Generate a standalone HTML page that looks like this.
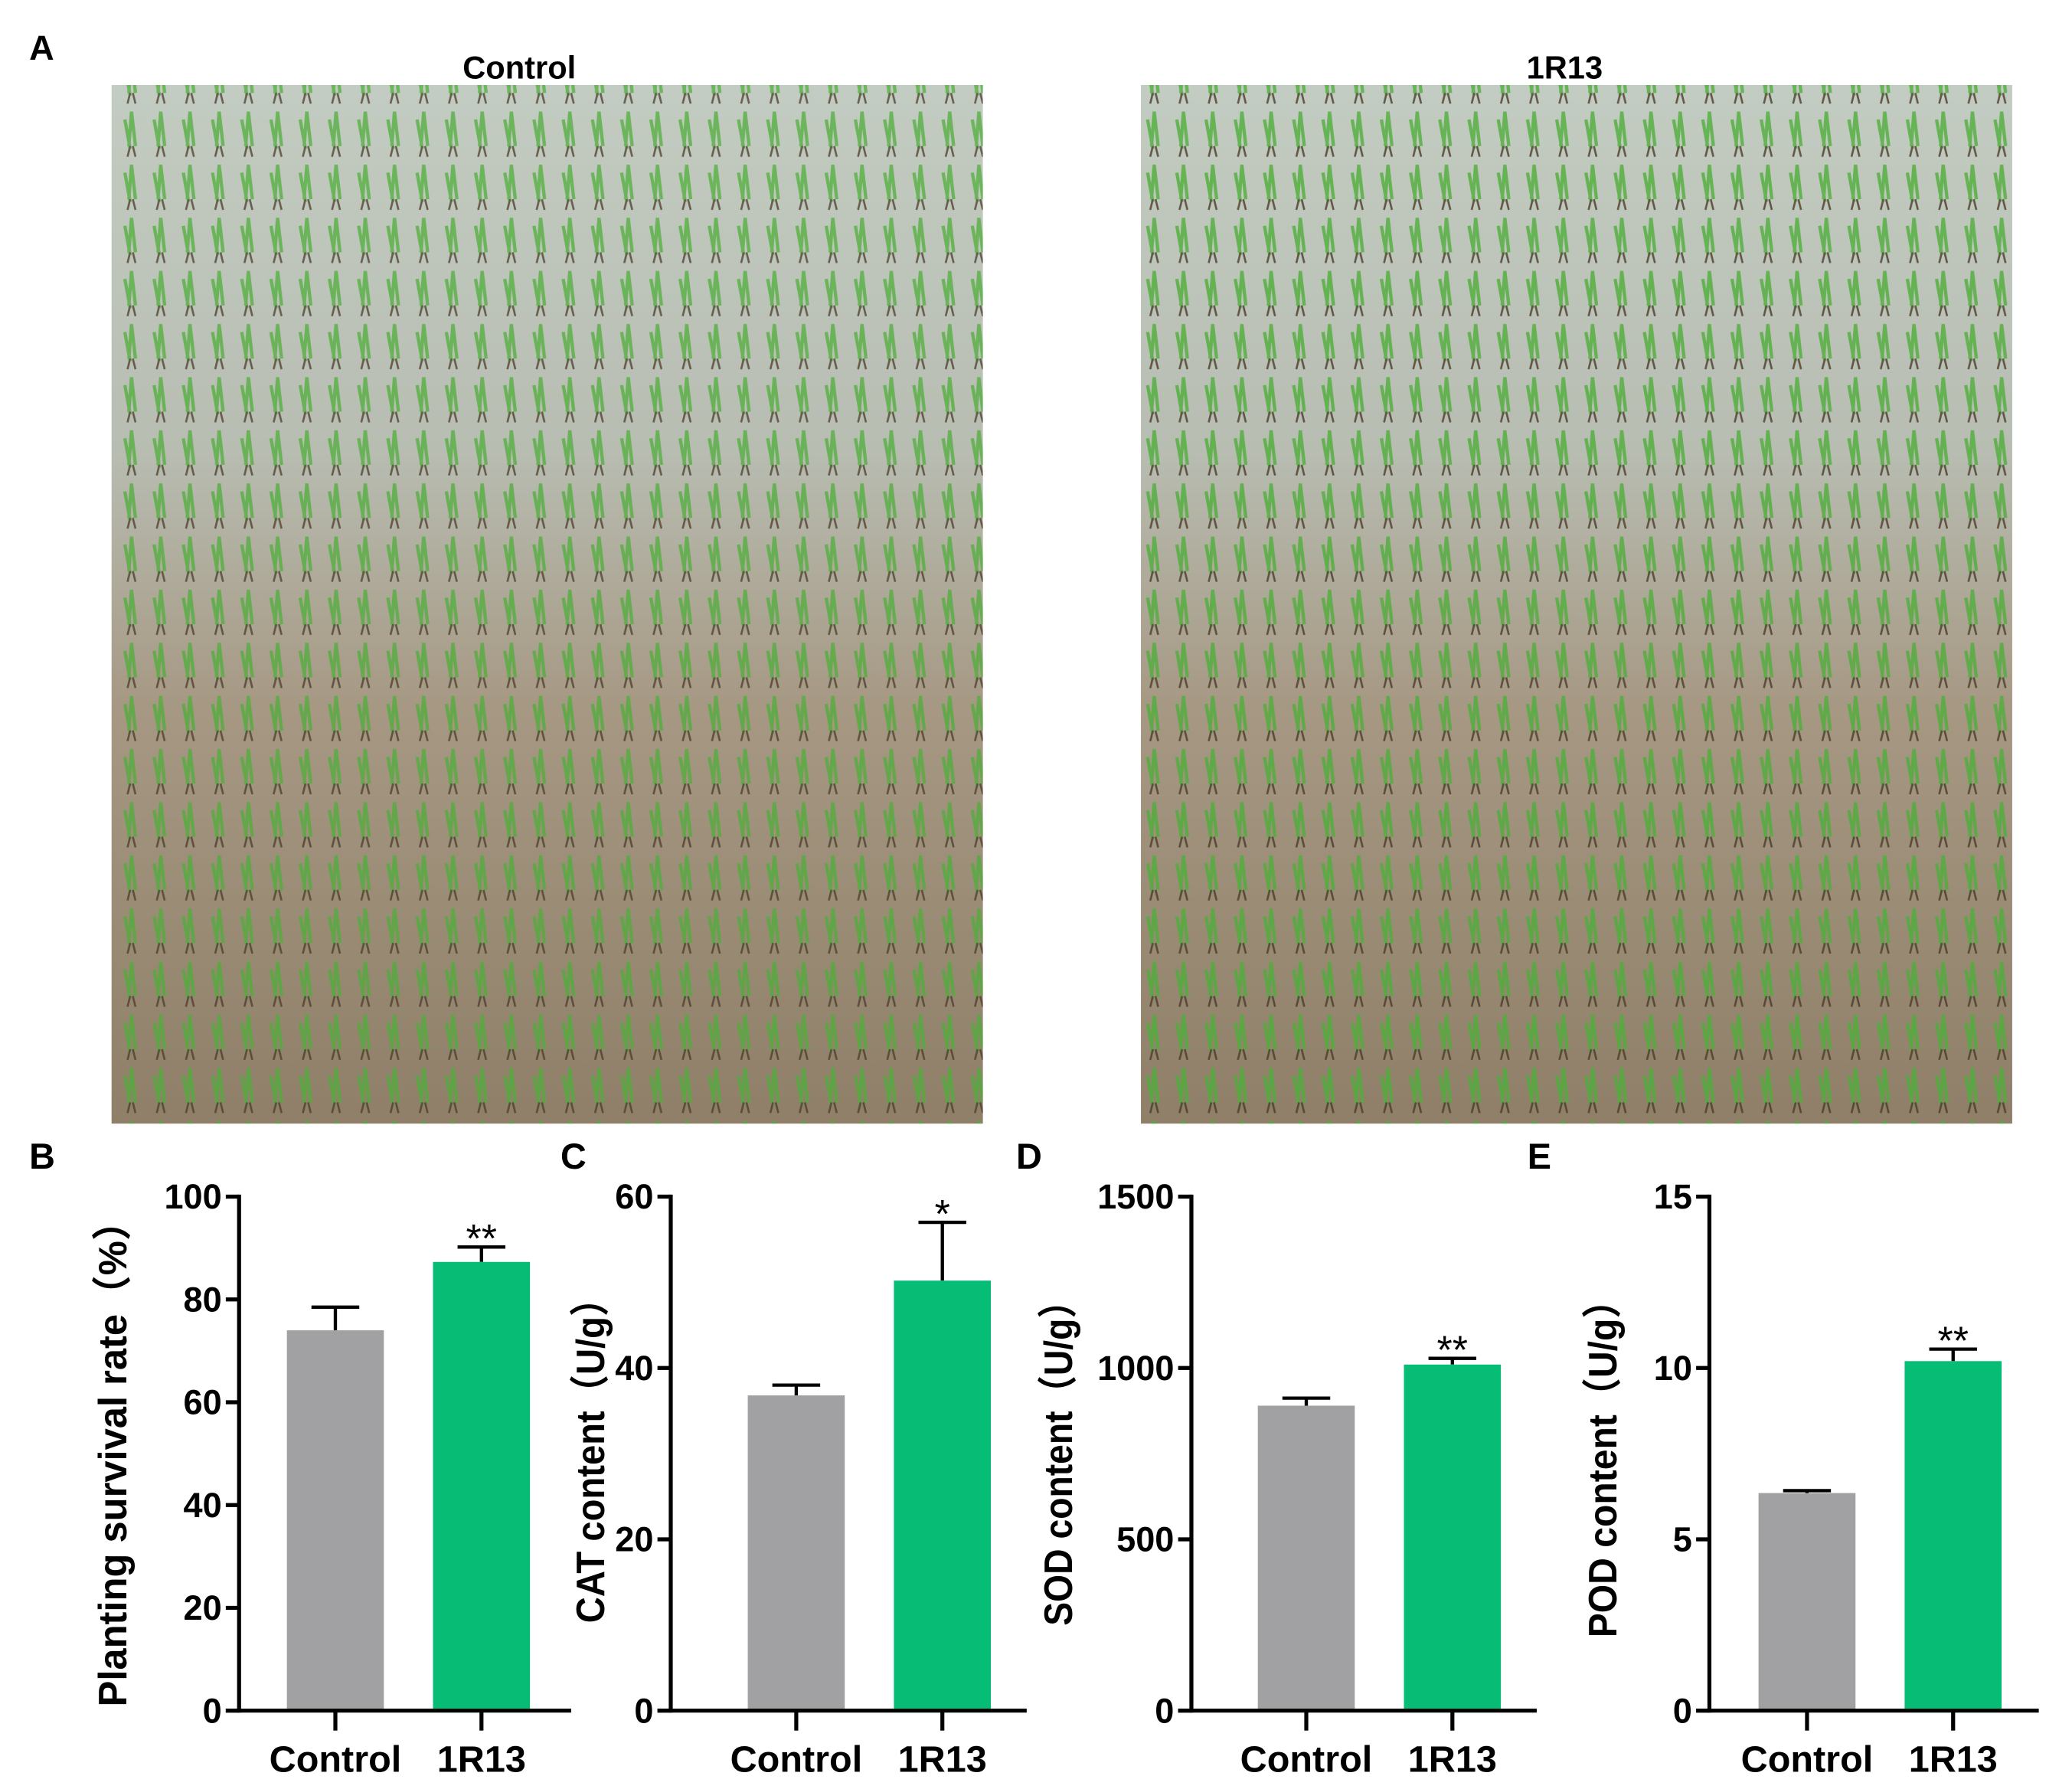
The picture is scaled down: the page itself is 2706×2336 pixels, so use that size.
<!DOCTYPE html>
<html><head><meta charset="utf-8"><style>
html,body{margin:0;padding:0;background:#fff}
svg{display:block}
text{font-family:"Liberation Sans","Noto Sans CJK SC",sans-serif;font-weight:bold;fill:#000}
</style></head><body>
<svg id="fig" width="2706" height="2336" viewBox="0 0 1560 1347" preserveAspectRatio="none" xmlns="http://www.w3.org/2000/svg">
<defs>
<linearGradient id="field" x1="0" y1="0" x2="0" y2="1">
<stop offset="0" stop-color="#c3ccc2"/><stop offset="0.35" stop-color="#b8bdb2"/><stop offset="0.6" stop-color="#a69883"/><stop offset="1" stop-color="#8f7f68"/>
</linearGradient>
<pattern id="rice" width="22" height="40" patternUnits="userSpaceOnUse">
<path d="M11 4 L9 30 M11 4 L14 30 M6 10 L10 32" stroke="#4fae3a" stroke-width="2.5" fill="none"/>
<path d="M10 30 L8 38 M12 30 L14 38" stroke="#4a3b2a" stroke-width="1.5" fill="none"/>
</pattern>
</defs>
<text x="22" y="45" font-size="26">A</text>
<text x="391" y="59" font-size="24" text-anchor="middle">Control</text>
<text x="1178" y="59" font-size="24" text-anchor="middle">1R13</text>
<g>
<rect x="84" y="64" width="656" height="782" fill="url(#field)"/>
<rect x="84" y="64" width="656" height="782" fill="url(#rice)" opacity="0.75"/>
</g>
<g>
<rect x="859" y="64" width="656" height="782" fill="url(#field)"/>
<rect x="859" y="64" width="656" height="782" fill="url(#rice)" opacity="0.8"/>
</g>
<g id="charts"></g>
</svg>
<script>
const categories = ["Control", "1R13"];
const survivalValues = [74, 87.3];
const survivalErrors = [4.5, 2.9];
const catValues = [36.8, 50.2];
const catErrors = [1.2, 6.8];
const sodValues = [890, 1010];
const sodErrors = [22, 18];
const podValues = [6.35, 10.2];
const podErrors = [0.07, 0.35];
const survivalTicks = [0, 20, 40, 60, 80, 100];
const catTicks = [0, 20, 40, 60];
const sodTicks = [0, 500, 1000, 1500];
const podTicks = [0, 5, 10, 15];
const sigMarks = [["", "**"], ["", "*"], ["", "**"], ["", "**"]];

const NS = "http://www.w3.org/2000/svg";
const root = document.getElementById("charts");
function mk(tag, attrs, parent) {
  const e = document.createElementNS(NS, tag);
  for (const k in attrs) e.setAttribute(k, attrs[k]);
  (parent || root).appendChild(e);
  return e;
}
const panels = [
  {key:"survival", label:"B", lx:22, ax:180, vals:survivalValues, errs:survivalErrors, ticks:survivalTicks, title:"Planting survival rate（%）", tx:85, bar0:216, xend:430, tlen:380, tcy:1095},
  {key:"cat", label:"C", lx:422, ax:505, vals:catValues, errs:catErrors, ticks:catTicks, title:"CAT content（U/g）", tx:445, bar0:563, xend:773, tlen:258, tcy:1093},
  {key:"sod", label:"D", lx:765, ax:897, vals:sodValues, errs:sodErrors, ticks:sodTicks, title:"SOD content（U/g）", tx:797, bar0:947, xend:1157, tlen:258, tcy:1095},
  {key:"pod", label:"E", lx:1150, ax:1287, vals:podValues, errs:podErrors, ticks:podTicks, title:"POD content（U/g）", tx:1207, bar0:1324, xend:1535, tlen:268, tcy:1099}
];
const yTop = 901, yBot = 1288, barW = 73, barGap = 110;
const colors = ["#a1a1a4", "#07bd76"];
panels.forEach((p, pi) => {
  const g = mk("g", {});
  
  
  const maxV = p.ticks[p.ticks.length - 1];
  const y = v => yBot - (v / maxV) * (yBot - yTop);
  const lab = mk("text", {x:p.lx, y:880, "font-size":27}, g);
  lab.textContent = p.label;
  
  
  p.vals.forEach((v, i) => {
    const x0 = p.bar0 + i * barGap;
    const cx = x0 + barW / 2;
    const top = y(v + p.errs[i]);
    const eb = mk("path", {d:`M${cx} ${y(v)} V${top} M${cx-18} ${top} H${cx+18}`, stroke:"#000", "stroke-width":2.5, fill:"none"}, g);
    
    
    const r = mk("rect", {x:x0, y:y(v), width:barW, height:yBot - y(v), fill:colors[i]}, g);
    
    
    if (sigMarks[pi][i]) {
      const s = mk("text", {x:cx, y:top + 4, "font-size":30, "text-anchor":"middle", style:"font-weight:normal"}, g);
      s.textContent = sigMarks[pi][i];
      
      
    }
    const tk = mk("line", {x1:cx, x2:cx, y1:yBot, y2:yBot + 15, stroke:"#000", "stroke-width":3}, g);
    
    
    const cl = mk("text", {x:cx, y:1334, "font-size":28, "text-anchor":"middle"}, g);
    cl.textContent = categories[i];
    
    
  });
  const ya = mk("line", {x1:p.ax, x2:p.ax, y1:yTop - 1.5, y2:yBot + 1.5, stroke:"#000", "stroke-width":3}, g);
  
  
  const xa = mk("line", {x1:p.ax - 10, x2:p.xend, y1:yBot, y2:yBot, stroke:"#000", "stroke-width":3}, g);
  
  
  p.ticks.forEach(t => {
    const tl = mk("line", {x1:p.ax - 10, x2:p.ax, y1:y(t), y2:y(t), stroke:"#000", "stroke-width":3}, g);
    
    
    const tt = mk("text", {x:p.ax - 13, y:y(t) + 9, "font-size":26, "text-anchor":"end"}, g);
    tt.textContent = t;
    
    
  });
  const ty = p.tcy;
  const tl = mk("text", {x:p.tx, y:ty, "font-size":30, "text-anchor":"middle", transform:`rotate(-90 ${p.tx} ${ty})`, dy:"10", "textLength":p.tlen, "lengthAdjust":"spacingAndGlyphs"}, g);
  tl.textContent = p.title;
  
  
});
</script>
</body></html>
